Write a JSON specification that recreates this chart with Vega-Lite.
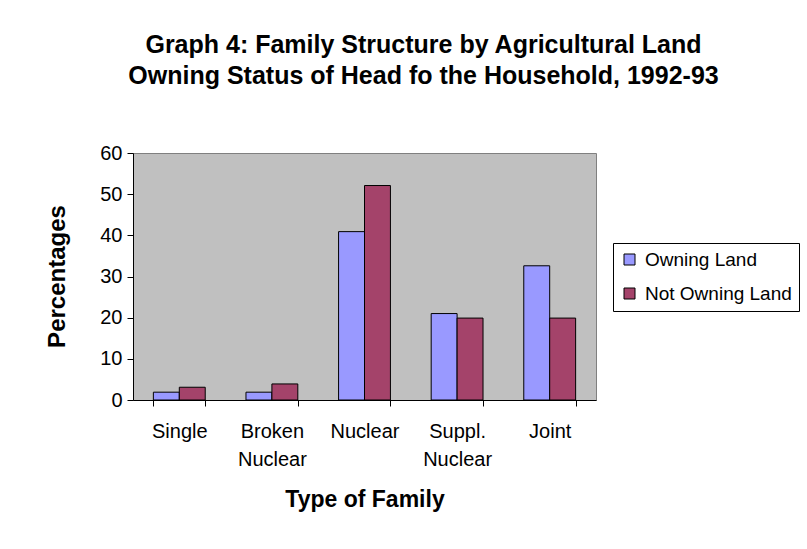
{
  "$schema": "https://vega.github.io/schema/vega-lite/v6.json",
  "width": 463,
  "height": 247,
  "autosize": {"type": "none"},
  "padding": {"left": 133, "top": 153, "right": 211, "bottom": 149},
  "background": "white",
  "title": {
    "text": ["Graph 4: Family Structure by Agricultural Land", "Owning Status of Head fo the Household, 1992-93"],
    "font": "Liberation Sans",
    "fontSize": 25,
    "fontWeight": "bold",
    "color": "black",
    "lineHeight": 31,
    "anchor": "middle",
    "offset": 54,
    "dx": 59
  },
  "data": {
    "values": [
      {"family": "Single", "status": "Owning Land", "pct": 1.9},
      {"family": "Single", "status": "Not Owning Land", "pct": 3.1},
      {"family": "Broken Nuclear", "status": "Owning Land", "pct": 1.9},
      {"family": "Broken Nuclear", "status": "Not Owning Land", "pct": 3.9},
      {"family": "Nuclear", "status": "Owning Land", "pct": 40.9},
      {"family": "Nuclear", "status": "Not Owning Land", "pct": 52.1},
      {"family": "Suppl. Nuclear", "status": "Owning Land", "pct": 21.0},
      {"family": "Suppl. Nuclear", "status": "Not Owning Land", "pct": 19.9},
      {"family": "Joint", "status": "Owning Land", "pct": 32.6},
      {"family": "Joint", "status": "Not Owning Land", "pct": 19.9}
    ]
  },
  "mark": {"type": "bar", "stroke": "black", "strokeWidth": 1},
  "encoding": {
    "x": {
      "field": "family",
      "type": "nominal",
      "sort": ["Single", "Broken Nuclear", "Nuclear", "Suppl. Nuclear", "Joint"],
      "scale": {"paddingInner": 0.44, "paddingOuter": 0.22},
      "axis": {
        "title": "Type of Family",
        "titleFont": "Liberation Sans",
        "titleFontSize": 23,
        "titleFontWeight": "bold",
        "titleColor": "black",
        "titleBaseline": "middle",
        "titleY": 99,
        "labelAngle": 0,
        "labelFont": "Liberation Sans",
        "labelFontSize": 20,
        "labelColor": "black",
        "labelBaseline": "top",
        "labelPadding": 15,
        "labelLineHeight": 28,
        "labelExpr": "isValid(datum.value) ? split(datum.value, ' ') : ''",
        "tickBand": "extent",
        "tickSize": 6,
        "tickColor": "black",
        "domainColor": "black",
        "grid": false
      }
    },
    "xOffset": {
      "field": "status",
      "type": "nominal",
      "sort": ["Owning Land", "Not Owning Land"],
      "scale": {"paddingInner": 0, "paddingOuter": 0}
    },
    "y": {
      "field": "pct",
      "type": "quantitative",
      "scale": {"domain": [0, 60], "nice": false},
      "axis": {
        "title": "Percentages",
        "titleFont": "Liberation Sans",
        "titleFontSize": 24,
        "titleFontWeight": "bold",
        "titleColor": "black",
        "titleBaseline": "middle",
        "titleX": -76,
        "titleY": 123,
        "titleAngle": 270,
        "values": [0, 10, 20, 30, 40, 50, 60],
        "labelFont": "Liberation Sans",
        "labelFontSize": 20,
        "labelColor": "black",
        "labelPadding": 5,
        "tickSize": 6,
        "tickColor": "black",
        "domainColor": "black",
        "grid": false
      }
    },
    "color": {
      "field": "status",
      "type": "nominal",
      "sort": ["Owning Land", "Not Owning Land"],
      "scale": {"domain": ["Owning Land", "Not Owning Land"], "range": ["#9999FF", "#A4436A"]},
      "legend": {
        "title": null,
        "orient": "none",
        "legendX": 480,
        "legendY": 90,
        "strokeColor": "black",
        "fillColor": "white",
        "padding": 7,
        "symbolType": "square",
        "symbolSize": 121,
        "symbolStrokeColor": "black",
        "symbolStrokeWidth": 1,
        "symbolOpacity": 1,
        "labelFont": "Liberation Sans",
        "labelFontSize": 19,
        "labelColor": "black",
        "labelOffset": 6,
        "rowPadding": 14
      }
    }
  },
  "config": {
    "view": {"fill": "#C0C0C0", "stroke": "#808080", "strokeWidth": 1}
  }
}
